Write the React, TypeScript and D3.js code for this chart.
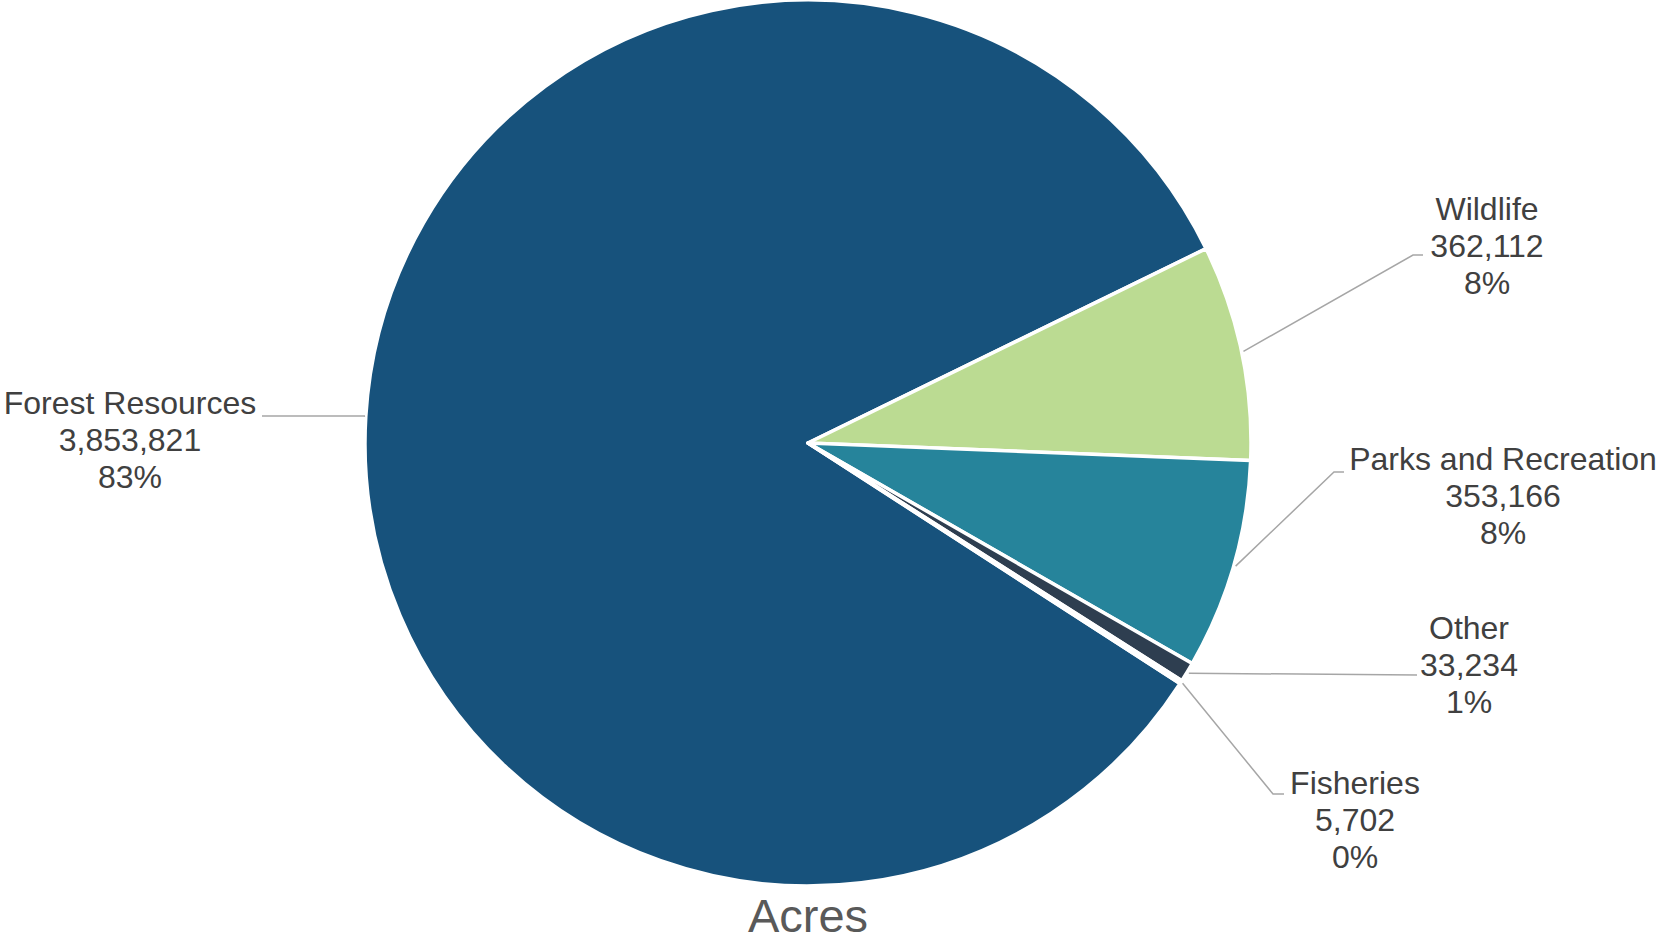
import React from "react";
import * as d3 from "d3";

const categories = ["Forest Resources", "Wildlife", "Parks and Recreation", "Other", "Fisheries"];
const acres = [3853821, 362112, 353166, 33234, 5702];
const colors = ["#17527C", "#BBDB92", "#26849B", "#2E3E50", "#6B8CA8"];
// label anchor (text centre x, first baseline y) — layout only
const labelPos: [number, number][] = [
  [130, 414],
  [1487, 220],
  [1503, 470],
  [1469, 639],
  [1355, 794],
];
// leader bend point and horizontal end x — layout only
const leaderEnd: [number, number, number][] = [
  [365, 416, 262],
  [1413, 255, 1423],
  [1334, 472, 1344],
  [1417, 675, 1417],
  [1273, 794, 1284],
];
const title = "Acres";

const W = 1657;
const H = 943;
const cx = 808;
const cy = 443;
const R = 443;
const startDeg = 122.9;

// percentages rounded with largest-remainder so they add to 100
function roundedPercents(vals: number[]): number[] {
  const total = d3.sum(vals);
  const raw = vals.map((v) => (v / total) * 100);
  const fl = raw.map((r) => Math.floor(r));
  let left = 100 - d3.sum(fl);
  const order = raw.map((r, i) => [r - Math.floor(r), i]).sort((a, b) => b[0] - a[0]);
  for (const [, i] of order) {
    if (left <= 0) break;
    fl[i] += 1;
    left -= 1;
  }
  return fl;
}

export default function App() {
  const pie = d3
    .pie<number>()
    .sort(null)
    .value((d) => d)
    .startAngle((startDeg * Math.PI) / 180)
    .endAngle((startDeg * Math.PI) / 180 + 2 * Math.PI);
  const arcs = pie(acres);
  const arc = d3.arc<d3.PieArcDatum<number>>().innerRadius(0).outerRadius(R);
  const fmtNum = d3.format(",");
  const pcts = roundedPercents(acres);
  const font = "'Liberation Sans', Arial, sans-serif";

  return (
    <svg
      width={W}
      height={H}
      style={{ position: "absolute", left: 0, top: 0, background: "#fff" }}
    >
      <g transform={`translate(${cx},${cy})`}>
        {arcs.map((a, i) => (
          <path key={i} d={arc(a) || ""} fill={colors[i]} stroke="#fff" strokeWidth={3.5} strokeLinejoin="round" />
        ))}
      </g>
      {arcs.map((a, i) => {
        const mid = (a.startAngle + a.endAngle) / 2;
        const sx = cx + Math.sin(mid) * (R + 2);
        const sy = cy - Math.cos(mid) * (R + 2);
        const [bx, by, ex] = leaderEnd[i];
        return (
          <polyline
            key={"l" + i}
            points={`${sx},${sy} ${bx},${by} ${ex},${by}`}
            fill="none"
            stroke="#A6A6A6"
            strokeWidth={1.5}
          />
        );
      })}
      {arcs.map((a, i) => {
        const [lx, ly] = labelPos[i];
        const lines = [categories[i], fmtNum(acres[i]), pcts[i] + "%"];
        return (
          <text
            key={"t" + i}
            x={lx}
            y={ly}
            textAnchor="middle"
            fontFamily={font}
            fontSize={32}
            fill="#404040"
          >
            {lines.map((s, j) => (
              <tspan key={j} x={lx} y={ly + j * 37}>
                {s}
              </tspan>
            ))}
          </text>
        );
      })}
      <text x={cx} y={932} textAnchor="middle" fontFamily={font} fontSize={47} fill="#595959">
        {title}
      </text>
    </svg>
  );
}
